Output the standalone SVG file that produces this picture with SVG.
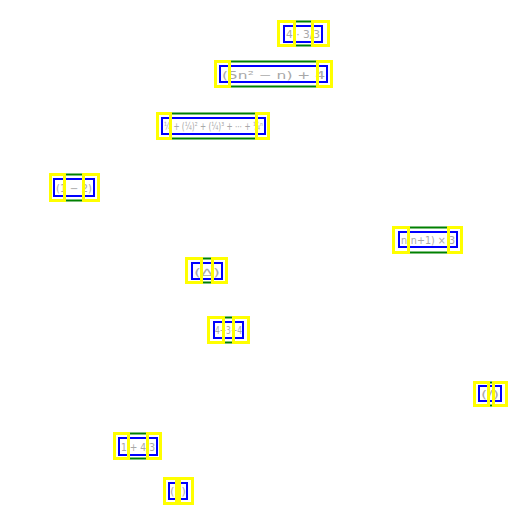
<svg xmlns="http://www.w3.org/2000/svg" width="512" height="512" viewBox="0 0 512 512">
<style>
.g{fill:none;stroke:#008000;stroke-width:2}
.b{fill:none;stroke:#0000ff;stroke-width:2}
.y{fill:none;stroke:#ffff00;stroke-width:3}
.t{fill:#a8a8a8;font-family:"DejaVu Sans",sans-serif;font-size:10px}
</style>
<rect width="512" height="512" fill="#fff"/>
<g id="expr1">
<rect class="g" x="278.5" y="21.5" width="50" height="24"/>
<rect class="b" x="284" y="26" width="38" height="16"/>
<text class="t" x="286" y="38" textLength="34" lengthAdjust="spacingAndGlyphs">4 · 3/3</text>
<rect class="y" x="278.5" y="21.5" width="16" height="24"/>
<rect class="y" x="312.5" y="21.5" width="16" height="24"/>
</g>
<g id="expr2">
<rect class="g" x="215.5" y="61.5" width="116" height="25"/>
<rect class="b" x="220" y="66" width="107" height="16"/>
<text class="t" x="222" y="79" font-size="12" textLength="103" lengthAdjust="spacingAndGlyphs" fill="#888">(5n² − n) + 4</text>
<rect class="y" x="215.5" y="61.5" width="14" height="25"/>
<rect class="y" x="317.5" y="61.5" width="14" height="25"/>
</g>
<g id="expr3">
<rect class="g" x="157.5" y="113.5" width="111" height="25"/>
<rect class="b" x="162" y="118" width="103" height="16"/>
<text class="t" x="164" y="130" font-size="9" textLength="99" lengthAdjust="spacingAndGlyphs">¼ + (¼)² + (¼)³ + ⋯ + ¼ⁿ</text>
<rect class="y" x="157.5" y="113.5" width="13" height="25"/>
<rect class="y" x="256.5" y="113.5" width="12" height="25"/>
</g>
<g id="expr4">
<rect class="g" x="50.5" y="174.5" width="48" height="26"/>
<rect class="b" x="54" y="179" width="40" height="17"/>
<text class="t" x="56" y="192" textLength="36" lengthAdjust="spacingAndGlyphs">(1 − 2)</text>
<rect class="y" x="50.5" y="174.5" width="14" height="26"/>
<rect class="y" x="83.5" y="174.5" width="15" height="26"/>
</g>
<g id="expr5">
<rect class="g" x="393.5" y="227.5" width="68" height="25"/>
<rect class="b" x="399" y="232" width="58" height="15"/>
<text class="t" x="401" y="244" font-size="9" textLength="54" lengthAdjust="spacingAndGlyphs">n(n+1) × 3</text>
<rect class="y" x="393.5" y="227.5" width="15" height="25"/>
<rect class="y" x="448.5" y="227.5" width="13" height="25"/>
</g>
<g id="expr6">
<rect class="g" x="186.5" y="258.5" width="40" height="24"/>
<rect class="b" x="192" y="263" width="30" height="16"/>
<text class="t" x="194" y="276" textLength="26" lengthAdjust="spacingAndGlyphs">(∆)</text>
<rect class="y" x="186.5" y="258.5" width="15" height="24"/>
<rect class="y" x="212.5" y="258.5" width="14" height="24"/>
</g>
<g id="expr7">
<rect class="g" x="208.5" y="317.5" width="40" height="25"/>
<rect class="b" x="214" y="322" width="29" height="16"/>
<text class="t" x="215" y="334" font-size="9" textLength="27" lengthAdjust="spacingAndGlyphs">4+3+4</text>
<rect class="y" x="208.5" y="317.5" width="15" height="25"/>
<rect class="y" x="233.5" y="317.5" width="15" height="25"/>
</g>
<g id="expr8">
<rect class="g" x="474.5" y="382.5" width="32" height="23"/>
<rect class="b" x="479" y="386" width="22" height="15"/>
<text class="t" x="481" y="398" textLength="18" lengthAdjust="spacingAndGlyphs">(/)</text>
<rect class="y" x="474.5" y="382.5" width="14" height="23"/>
<rect class="y" x="493.5" y="382.5" width="13" height="23"/>
</g>
<g id="expr9">
<rect class="g" x="114.5" y="433.5" width="46" height="25"/>
<rect class="b" x="119" y="438" width="38" height="17"/>
<text class="t" x="121" y="451" font-size="9" textLength="34" lengthAdjust="spacingAndGlyphs">1 + 4/3</text>
<rect class="y" x="114.5" y="433.5" width="14" height="25"/>
<rect class="y" x="147.5" y="433.5" width="13" height="25"/>
</g>
<g id="expr10">
<rect class="g" x="164.5" y="478.5" width="28" height="25"/>
<rect class="b" x="169" y="483" width="18" height="16"/>
<text class="t" x="170" y="495" textLength="16" lengthAdjust="spacingAndGlyphs">(2)</text>
<rect class="y" x="164.5" y="478.5" width="12" height="25"/>
<rect class="y" x="179.5" y="478.5" width="13" height="25"/>
</g>
</svg>
